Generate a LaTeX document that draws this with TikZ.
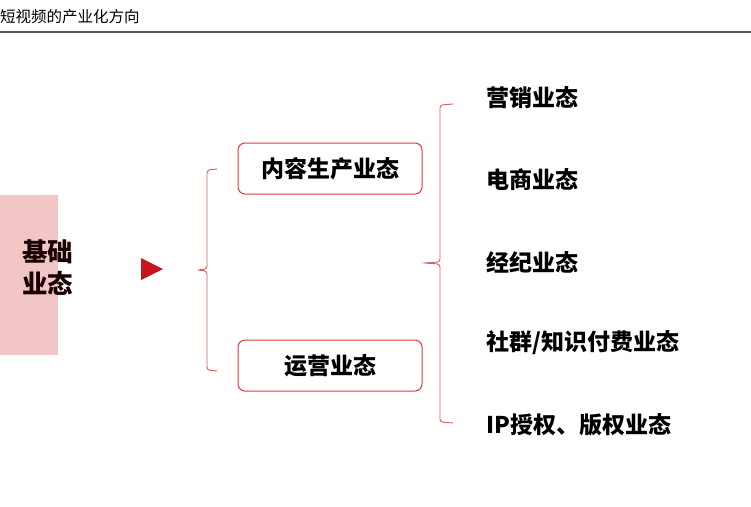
\documentclass[tikz,border=0pt]{standalone}
\usepackage{fontspec}
\setmainfont{Liberation Sans}
\newfontfamily\cjk{Noto Sans CJK SC}
\definecolor{boxred}{HTML}{E23A3A}
\definecolor{brred}{HTML}{E35A5A}
\definecolor{tri}{HTML}{C8141E}
\definecolor{pinkbg}{HTML}{F2C5C7}
\definecolor{hdrline}{HTML}{555555}
\tikzset{
  rbox/.style={draw=boxred, line width=1pt, rounded corners=7pt, minimum width=184pt, minimum height=51pt, inner sep=0pt, font=\cjk\bfseries\fontsize{23}{26}\selectfont},
  item/.style={anchor=west, inner sep=0pt, font=\cjk\bfseries\fontsize{23}{26}\selectfont},
  brace/.style={draw=brred, line width=0.9pt, rounded corners=3pt},
}
\begin{document}
\begin{tikzpicture}[x=1pt,y=-1pt]
\useasboundingbox[fill=white] (0,0) rectangle (751,506);
% header
\node[anchor=west, inner sep=0pt, font=\cjk\fontsize{15.5}{17}\selectfont] (hdr) at (0,17) {短视频的产业化方向};
\draw[hdrline, line width=1.2pt] (0,32) -- (751,32);
% left base box
\fill[pinkbg] (0,195) rectangle (58,355);
\node[anchor=west, inner sep=0pt, align=left, font=\cjk\bfseries\fontsize{25.5}{32}\selectfont, text=black!90!red] (base) at (22,268) {基础\\业态};
% triangle
\fill[tri] (141,258) -- (163,269) -- (141,280) -- cycle;
\coordinate (tri) at (163,269);
% left brace
\coordinate (lbT) at (217,169);
\coordinate (lbM) at (197,270);
\coordinate (lbB) at (217,371);
\draw[brace] (lbT) -- (207,170) -- (207,269) -- (lbM) -- (207,271) -- (207,370) -- (lbB);
% boxes
\node[rbox] (content) at (330,168.5) {内容生产业态};
\node[rbox] (ops) at (330,365.5) {运营业态};
% right brace
\coordinate (rbT) at (453,104);
\coordinate (rbM) at (423,263);
\coordinate (rbB) at (453,423);
\draw[brace] (rbT) -- (440,105) -- (440,262) -- (rbM) -- (440,264) -- (440,422) -- (rbB);
% items
\node[item] (i1) at (486,98) {营销业态};
\node[item] (i2) at (486,180) {电商业态};
\node[item] (i3) at (486,262) {经纪业态};
\node[item] (i4) at (486,343) {社群/知识付费业态};
\node[item] (i5) at (486,425) {IP授权、版权业态};
\end{tikzpicture}
\end{document}
